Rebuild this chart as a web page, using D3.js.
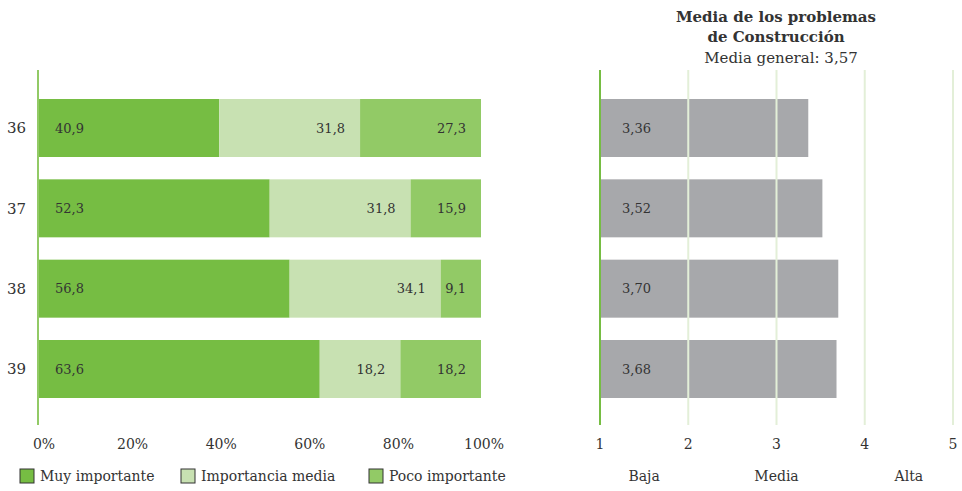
<!DOCTYPE html>
<html lang="es">
<head>
<meta charset="UTF-8">
<title>Problemas de Construcción</title>
<script src="https://d3js.org/d3.v7.min.js"></script>
<style>
  body { margin: 0; background: #fff; }
  svg text { font-family: "DejaVu Serif", "Liberation Serif", serif; fill: #333; }
</style>
</head>
<body>
<svg id="chart"></svg>
<script>
// data
const categories = ["36", "37", "38", "39"];
const seriesNames = ["Muy importante", "Importancia media", "Poco importante"];
const muyImportante = [40.9, 52.3, 56.8, 63.6];
const importanciaMedia = [31.8, 31.8, 34.1, 18.2];
const pocoImportante = [27.3, 15.9, 9.1, 18.2];
const medias = [3.36, 3.52, 3.70, 3.68];
const mediaGeneral = 3.57;
const pctTicks = [0, 20, 40, 60, 80, 100];
const mediaTicks = [1, 2, 3, 4, 5];
const nivelLabels = [{ pos: 1.5, label: "Baja" }, { pos: 3, label: "Media" }, { pos: 4.5, label: "Alta" }];

const colors = ["#76bd43", "#c8e1b2", "#92ca66"];
const fmt = v => d3.format(".1f")(v).replace(".", ",");
const fmt2 = v => d3.format(".2f")(v).replace(".", ",");

const W = 962, H = 491;
const svg = d3.select("#chart").attr("width", W).attr("height", H);

const rows = categories.map((c, i) => ({
  cat: c,
  vals: [muyImportante[i], importanciaMedia[i], pocoImportante[i]]
}));

const y = d3.scaleBand().domain(categories).range([99, 398]).paddingInner(0.278).paddingOuter(0);

// ---- left stacked chart
const x = d3.scaleLinear().domain([0, 100]).range([38, 481]);

const stack = d3.stack().keys([0, 1, 2]).value((d, k) => d.vals[k]);
const series = stack(rows);

const g1 = svg.append("g");
series.forEach((s, si) => {
  g1.selectAll(".seg" + si)
    .data(s)
    .join("rect")
    .attr("x", d => x(d[0]))
    .attr("y", d => y(d.data.cat))
    .attr("width", d => x(d[1]) - x(d[0]))
    .attr("height", y.bandwidth())
    .attr("fill", colors[si]);

  g1.selectAll(".lab" + si)
    .data(s)
    .join("text")
    .attr("x", d => si === 0 ? x(d[0]) + 17 : x(d[1]) - 15)
    .attr("y", d => y(d.data.cat) + y.bandwidth() / 2)
    .attr("dy", "0.35em")
    .attr("text-anchor", si === 0 ? "start" : "end")
    .style("font-size", "13px")
    .text(d => fmt(d.data.vals[si]));
});

g1.append("line")
  .attr("x1", x(0)).attr("x2", x(0))
  .attr("y1", 70).attr("y2", 425)
  .attr("stroke", "#92ca66").attr("stroke-width", 2);

g1.selectAll(".cat")
  .data(categories)
  .join("text")
  .attr("x", 26)
  .attr("y", d => y(d) + y.bandwidth() / 2)
  .attr("dy", "0.35em")
  .attr("text-anchor", "end")
  .style("font-size", "15px")
  .text(d => d);

g1.selectAll(".xt")
  .data(pctTicks)
  .join("text")
  .attr("x", d => x(d))
  .attr("y", 444)
  .attr("dy", "0.35em")
  .attr("text-anchor", "middle")
  .attr("dx", (d, i) => i === pctTicks.length - 1 ? 3 : 6)
  .style("font-size", "14px")
  .text(d => d + "%");

// legend
const legX = [20, 181, 369];
const leg = g1.selectAll(".leg").data(seriesNames).join("g")
  .attr("transform", (d, i) => `translate(${legX[i]},469)`);
leg.append("rect").attr("width", 14).attr("height", 14)
  .attr("fill", (d, i) => colors[i]).attr("stroke", "#333").attr("stroke-width", 1);
leg.append("text").attr("x", 20).attr("y", 7).attr("dy", "0.35em")
  .style("font-size", "14px").text(d => d);

// ---- right mean chart
const xm = d3.scaleLinear().domain([1, 5]).range([600, 953]);
const g2 = svg.append("g");

g2.selectAll(".mbar")
  .data(medias)
  .join("rect")
  .attr("x", xm(1))
  .attr("y", (d, i) => y(categories[i]))
  .attr("width", d => xm(d) - xm(1))
  .attr("height", y.bandwidth())
  .attr("fill", "#a7a8ab");

g2.selectAll(".grid")
  .data(mediaTicks.slice(1))
  .join("line")
  .attr("x1", d => xm(d)).attr("x2", d => xm(d))
  .attr("y1", 70).attr("y2", 425)
  .attr("stroke", "#e3efd8").attr("stroke-width", 2);

g2.append("line")
  .attr("x1", xm(1)).attr("x2", xm(1))
  .attr("y1", 70).attr("y2", 425)
  .attr("stroke", "#76bd43").attr("stroke-width", 2);

g2.selectAll(".mlab")
  .data(medias)
  .join("text")
  .attr("x", xm(1) + 22)
  .attr("y", (d, i) => y(categories[i]) + y.bandwidth() / 2)
  .attr("dy", "0.35em")
  .style("font-size", "13px")
  .text(d => fmt2(d));

g2.selectAll(".mt")
  .data(mediaTicks)
  .join("text")
  .attr("x", d => xm(d))
  .attr("y", 444)
  .attr("dy", "0.35em")
  .attr("text-anchor", "middle")
  .style("font-size", "14px")
  .text(d => d);

g2.selectAll(".niv")
  .data(nivelLabels)
  .join("text")
  .attr("x", d => xm(d.pos))
  .attr("y", 476)
  .attr("dy", "0.35em")
  .attr("text-anchor", "middle")
  .style("font-size", "14px")
  .text(d => d.label);

// title
const tx = 776;
svg.append("text").attr("x", tx).attr("y", 17).attr("dy", "0.35em").attr("text-anchor", "middle")
  .style("font-size", "15px").style("font-weight", "bold").text("Media de los problemas");
svg.append("text").attr("x", tx).attr("y", 37).attr("dy", "0.35em").attr("text-anchor", "middle")
  .style("font-size", "15px").style("font-weight", "bold").text("de Construcción");
svg.append("text").attr("x", 781).attr("y", 58).attr("dy", "0.35em").attr("text-anchor", "middle")
  .style("font-size", "15px").text("Media general: " + fmt2(mediaGeneral));
</script>
</body>
</html>
